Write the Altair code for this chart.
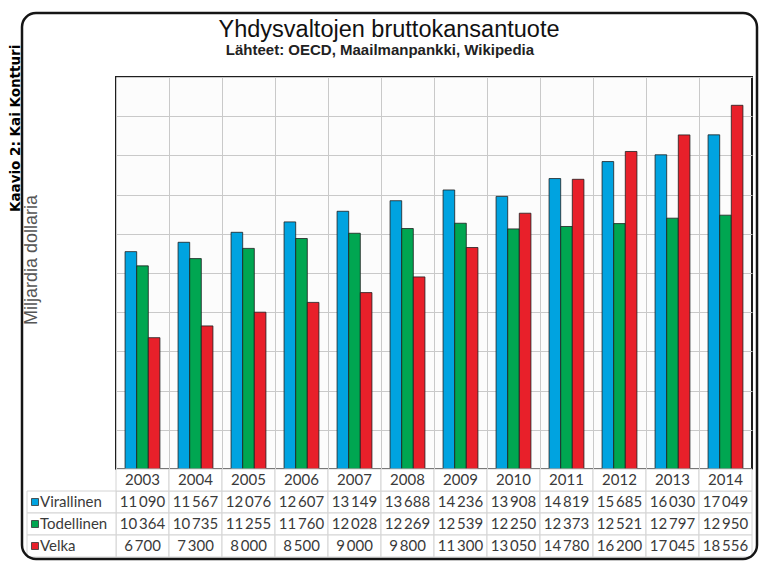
import altair as alt
import pandas as pd

# ---- data -------------------------------------------------------------
years = ["2003", "2004", "2005", "2006", "2007", "2008",
         "2009", "2010", "2011", "2012", "2013", "2014"]
series = ["Virallinen", "Todellinen", "Velka"]
colors = ["#00a3e0", "#00a651", "#e8202a"]
virallinen = [11090, 11567, 12076, 12607, 13149, 13688, 14236, 13908, 14819, 15685, 16030, 17049]
todellinen = [10364, 10735, 11255, 11760, 12028, 12269, 12539, 12250, 12373, 12521, 12797, 12950]
velka = [6700, 7300, 8000, 8500, 9000, 9800, 11300, 13050, 14780, 16200, 17045, 18556]
grid_values = [0, 2000, 4000, 6000, 8000, 10000, 12000, 14000, 16000, 18000, 20000]
rows = ["Vuosi", "Virallinen", "Todellinen", "Velka"]

title_text = "Yhdysvaltojen bruttokansantuote"
subtitle_text = "Lähteet: OECD, Maailmanpankki,  Wikipedia"
y_title_text = "Miljardia dollaria"
credit_text = "Kaavio 2: Kai Kontturi"

# ---- tables -----------------------------------------------------------
values = {"Virallinen": virallinen, "Todellinen": todellinen, "Velka": velka}
recs = []
for s in series:
    for y, v in zip(years, values[s]):
        recs.append({"year": y, "series": s, "row": s, "value": v,
                     "label": f"{v:,}".replace(",", "\u2009")})
df = pd.DataFrame(recs)
df_years = pd.DataFrame({"year": years, "row": "Vuosi", "label": years})
df_cells = pd.concat([df[["year", "row", "label"]], df_years], ignore_index=True)
df_rowlab = pd.DataFrame({"row": series, "series": series})
one = pd.DataFrame({"t": [title_text], "s": [subtitle_text], "y": [y_title_text], "c": [credit_text]})

FONT = "Liberation Sans"
TFONT = "Lato"
grid_col = "#c9c9c9"
cell_col = "#d4d4d4"

xenc = alt.X("year:O", sort=years,
             scale=alt.Scale(paddingInner=0, paddingOuter=0),
             axis=alt.Axis(labels=False, ticks=False, domain=False, grid=True,
                           bandPosition=0, gridColor=grid_col, gridWidth=1, title=None))
row_y = alt.Y("row:N", sort=rows,
              scale=alt.Scale(type="band", domain=rows, range=[392, 480],
                              paddingInner=0, paddingOuter=0),
              axis=None, bandPosition=0.5)
color = alt.Color("series:N", scale=alt.Scale(domain=series, range=colors), legend=None)

# bars (with gridlines from axes)
bars = alt.Chart(df).mark_bar(stroke="#1e1e1e", strokeWidth=0.8).encode(
    x=xenc,
    xOffset=alt.XOffset("series:N", sort=series,
                        scale=alt.Scale(domain=series, paddingInner=0, paddingOuter=0.78)),
    y=alt.Y("value:Q", scale=alt.Scale(domain=[0, 20000], nice=False),
            axis=alt.Axis(values=grid_values, labels=False, ticks=False, domain=False,
                          grid=True, gridColor=grid_col, gridWidth=1, title=None)),
    color=color,
)

# table cells
cells = alt.Chart(df_cells).mark_rect(fill="white", stroke=cell_col, strokeWidth=1).encode(
    x=xenc, y=row_y)
cell_text = alt.Chart(df_cells).mark_text(font=TFONT, fontSize=15, color="#3a3a3a",
                                          baseline="middle").encode(
    x=xenc, y=row_y, text="label:N")

label_cells = alt.Chart(df_rowlab).mark_rect(fill="white", stroke=cell_col, strokeWidth=1).encode(
    x=alt.value(-89), x2=alt.value(0), y=row_y)
label_sq = alt.Chart(df_rowlab).mark_square(size=49, opacity=1, stroke="#333",
                                            strokeWidth=0.8).encode(
    x=alt.value(-81), y=row_y, color=color)
label_text = alt.Chart(df_rowlab).mark_text(font=TFONT, fontSize=15, color="#3a3a3a",
                                            align="left", baseline="middle").encode(
    x=alt.value(-76), y=row_y, text="series:N")

# titles & frame
frame = alt.Chart(one).mark_rect(filled=False, stroke="#151515", strokeWidth=2.5,
                                 cornerRadius=14).encode(
    x=alt.value(-94), x2=alt.value(641), y=alt.value(-64), y2=alt.value(482))
title = alt.Chart(one).mark_text(font=FONT, fontSize=23.5, color="#111",
                                 align="center", baseline="alphabetic").encode(
    x=alt.value(273), y=alt.value(-40), text="t:N")
subtitle = alt.Chart(one).mark_text(font=FONT, fontSize=15, fontWeight="bold", color="#222",
                                    align="center", baseline="alphabetic").encode(
    x=alt.value(264), y=alt.value(-22), text="s:N")
ytitle = alt.Chart(one).mark_text(font=FONT, fontSize=18, color="#555", angle=270,
                                  align="center", baseline="middle").encode(
    x=alt.value(-84), y=alt.value(183), text="y:N")
credit = alt.Chart(one).mark_text(font="DejaVu Sans", fontSize=13.5, fontWeight="bold",
                                  color="#000", angle=270, align="left",
                                  baseline="middle").encode(
    x=alt.value(-100), y=alt.value(135), text="c:N")

chart = alt.layer(
    bars, cells, cell_text, label_cells, label_sq, label_text,
    frame, title, subtitle, ytitle, credit
).resolve_scale(y="independent").properties(
    width=636, height=392,
    autosize=alt.AutoSizeParams(type="none"),
    padding={"left": 108, "top": 69, "right": 9, "bottom": 92},
    background="white",
).configure_view(stroke="#1e1e1e", strokeWidth=2, fill="#fcfcfc")

chart.save("out.html", embed_options={"renderer": "svg", "actions": False})
